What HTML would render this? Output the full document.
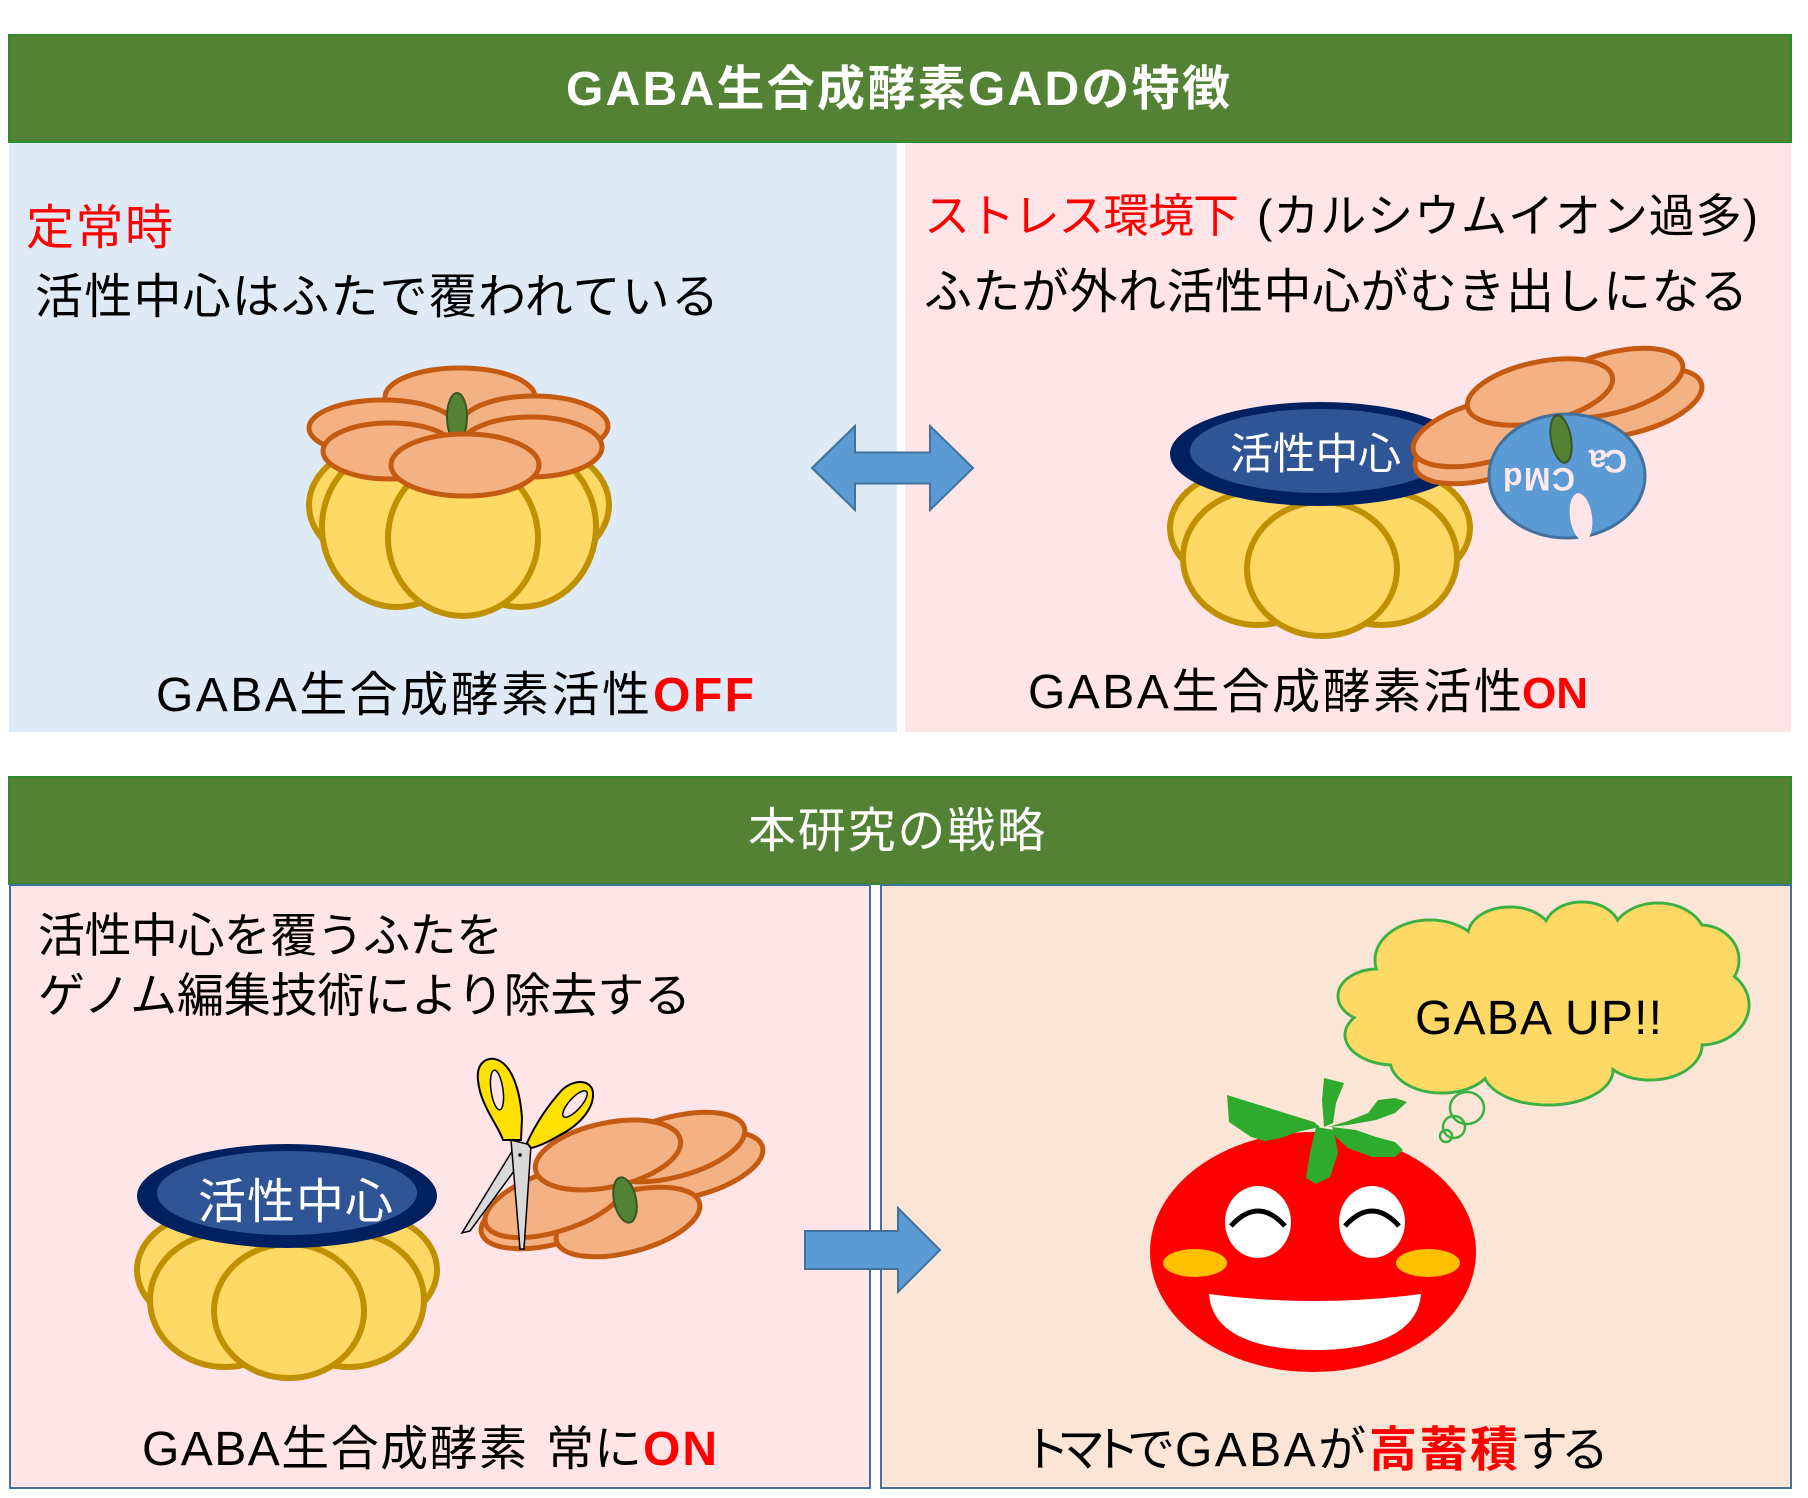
<!DOCTYPE html>
<html>
<head>
<meta charset="utf-8">
<style>
html,body{margin:0;padding:0;background:#ffffff;}
svg{display:block;}
text{font-family:"Liberation Sans","Noto Sans CJK JP",sans-serif;}
</style>
</head>
<body>
<svg width="1808" height="1498" viewBox="0 0 1808 1498" xmlns="http://www.w3.org/2000/svg">
  <rect x="0" y="0" width="1808" height="1498" fill="#ffffff"/>

  <!-- ===== TOP SECTION ===== -->
  <rect x="9" y="35" width="1782" height="107" fill="#548235" stroke="#2E8B2E" stroke-width="2"/>
  <text x="566" y="105" font-size="48" font-weight="bold" fill="#ffffff" textLength="664" lengthAdjust="spacing">GABA生合成酵素GADの特徴</text>

  <rect x="9" y="143" width="888" height="589" fill="#DEEBF7"/>
  <rect x="905" y="143" width="886" height="589" fill="#FFE4E8"/>

  <!-- left panel text -->
  <text x="26" y="244" font-size="48" fill="#FF0000" textLength="147" lengthAdjust="spacing">定常時</text>
  <text x="35" y="313" font-size="48" fill="#000" textLength="684" lengthAdjust="spacing">活性中心はふたで覆われている</text>
  <text x="156" y="711" font-size="48" fill="#000" textLength="494" lengthAdjust="spacing">GABA生合成酵素活性</text>
  <text x="653" y="711" font-size="48" font-weight="bold" fill="#FF0000" textLength="101" lengthAdjust="spacing">OFF</text>

  <!-- right panel text -->
  <text x="924" y="232" font-size="46" fill="#FF0000" textLength="315" lengthAdjust="spacing">ストレス環境下</text>
  <text x="1257" y="232" font-size="46" fill="#000" textLength="501" lengthAdjust="spacing">(カルシウムイオン過多)</text>
  <text x="924" y="308" font-size="48" fill="#000" textLength="824" lengthAdjust="spacing">ふたが外れ活性中心がむき出しになる</text>
  <text x="1028" y="708" font-size="48" fill="#000" textLength="494" lengthAdjust="spacing">GABA生合成酵素活性</text>
  <text x="1522" y="708" font-size="44" font-weight="bold" fill="#FF0000">ON</text>

  <!-- double arrow -->
  <polygon points="812,468 855,426 855,452.5 930,452.5 930,426 973,468 930,510 930,483.5 855,483.5 855,510" fill="#5B9BD5" stroke="#41719C" stroke-width="2"/>

  <!-- Pumpkin 1 (lid closed) -->
  <g stroke="#BF9000" stroke-width="6" fill="#FFD966">
    <ellipse cx="387" cy="505" rx="78" ry="60"/>
    <ellipse cx="531" cy="505" rx="78" ry="60"/>
    <ellipse cx="397" cy="527" rx="75" ry="80"/>
    <ellipse cx="521" cy="527" rx="75" ry="80"/>
    <ellipse cx="463" cy="538" rx="75" ry="78"/>
  </g>
  <g stroke="#C55A11" stroke-width="5" fill="#F4B183">
    <ellipse cx="460" cy="397" rx="75" ry="29"/>
    <ellipse cx="383" cy="428" rx="74" ry="28"/>
    <ellipse cx="534" cy="426" rx="74" ry="30"/>
    <ellipse cx="390" cy="451" rx="67" ry="28"/>
    <ellipse cx="531" cy="447" rx="71" ry="30"/>
  </g>
  <ellipse cx="457" cy="417" rx="10" ry="24" fill="#548235" stroke="#385723" stroke-width="2"/>
  <ellipse cx="465" cy="465" rx="74" ry="31" fill="#F4B183" stroke="#C55A11" stroke-width="5"/>

  <!-- Pumpkin 2 (lid off) -->
  <g transform="translate(1033,-742)">
    <g stroke="#BF9000" stroke-width="6" fill="#FFD966">
      <ellipse cx="215" cy="1270" rx="78" ry="58"/>
      <ellipse cx="359" cy="1270" rx="78" ry="58"/>
      <ellipse cx="225" cy="1300" rx="75" ry="67"/>
      <ellipse cx="349" cy="1300" rx="75" ry="67"/>
      <ellipse cx="289" cy="1311" rx="75" ry="67"/>
    </g>
    <ellipse cx="287" cy="1196" rx="150" ry="52" fill="#002060"/>
    <ellipse cx="287" cy="1193" rx="130" ry="42" fill="#2F5597"/>
  </g>
  <text x="1230" y="469" font-size="43" fill="#ffffff" textLength="171" lengthAdjust="spacing">活性中心</text>
  <g fill="#F4B183" stroke="#C55A11" stroke-width="5">
    <ellipse cx="1630" cy="403" rx="74" ry="30" transform="rotate(-15 1630 403)"/>
    <ellipse cx="1611" cy="383" rx="74" ry="30" transform="rotate(-15 1611 383)"/>
    <ellipse cx="1487" cy="449" rx="74" ry="30" transform="rotate(-15 1487 449)"/>
    <ellipse cx="1485" cy="432" rx="74" ry="30" transform="rotate(-15 1485 432)"/>
    <ellipse cx="1540" cy="392" rx="74" ry="30" transform="rotate(-12 1540 392)"/>
  </g>
  <ellipse cx="1567" cy="476" rx="78" ry="62" fill="#5B9BD5" stroke="#41719C" stroke-width="3"/>
  <g transform="rotate(180 1567 476)" fill="#FDE9EC" font-weight="bold" font-size="32">
    <text x="1559" y="484" textLength="72" lengthAdjust="spacing">CMd</text>
    <text x="1507" y="502" textLength="38" lengthAdjust="spacing">Ca</text>
  </g>
  <ellipse cx="1581" cy="517" rx="11" ry="24" fill="#FFE4E8" transform="rotate(-8 1581 517)"/>
  <ellipse cx="1561" cy="439" rx="10" ry="24" fill="#548235" stroke="#385723" stroke-width="2" transform="rotate(-10 1561 439)"/>

  <!-- ===== BOTTOM SECTION ===== -->
  <rect x="9" y="777" width="1782" height="107" fill="#548235" stroke="#2E8B2E" stroke-width="2"/>
  <text x="748" y="847" font-size="48" fill="#ffffff" textLength="297" lengthAdjust="spacing">本研究の戦略</text>

  <rect x="10" y="885" width="860" height="603" fill="#FFE4E8" stroke="#41719C" stroke-width="2"/>
  <rect x="881" y="885" width="910" height="603" fill="#FBE5D6" stroke="#41719C" stroke-width="2"/>

  <text x="38" y="952" font-size="47" fill="#000" textLength="465" lengthAdjust="spacing">活性中心を覆うふたを</text>
  <text x="38" y="1012" font-size="47" fill="#000" textLength="653" lengthAdjust="spacing">ゲノム編集技術により除去する</text>

  <text x="142" y="1465" font-size="48" fill="#000" textLength="385" lengthAdjust="spacing">GABA生合成酵素</text>
  <text x="546" y="1465" font-size="48" fill="#000" textLength="96" lengthAdjust="spacing">常に</text>
  <text x="643" y="1465" font-size="48" font-weight="bold" fill="#FF0000" textLength="74" lengthAdjust="spacing">ON</text>

  <!-- Pumpkin 3 -->
  <g stroke="#BF9000" stroke-width="6" fill="#FFD966">
    <ellipse cx="215" cy="1270" rx="78" ry="58"/>
    <ellipse cx="359" cy="1270" rx="78" ry="58"/>
    <ellipse cx="225" cy="1300" rx="75" ry="67"/>
    <ellipse cx="349" cy="1300" rx="75" ry="67"/>
    <ellipse cx="289" cy="1311" rx="75" ry="67"/>
  </g>
  <ellipse cx="287" cy="1196" rx="150" ry="52" fill="#002060"/>
  <ellipse cx="287" cy="1193" rx="130" ry="42" fill="#2F5597"/>
  <text x="198" y="1218" font-size="48" fill="#ffffff" textLength="195" lengthAdjust="spacing">活性中心</text>

  <!-- removed lid -->
  <g fill="#F4B183" stroke="#C55A11" stroke-width="5">
    <ellipse cx="691" cy="1166" rx="74" ry="30" transform="rotate(-15 691 1166)"/>
    <ellipse cx="673" cy="1147" rx="74" ry="30" transform="rotate(-15 673 1147)"/>
    <ellipse cx="553" cy="1214" rx="74" ry="30" transform="rotate(-15 553 1214)"/>
    <ellipse cx="628" cy="1222" rx="74" ry="30" transform="rotate(-15 628 1222)"/>
    <ellipse cx="556" cy="1201" rx="74" ry="30" transform="rotate(-18 556 1201)"/>
    <ellipse cx="608" cy="1155" rx="74" ry="32" transform="rotate(-12 608 1155)"/>
  </g>
  <ellipse cx="625" cy="1200" rx="11" ry="23" fill="#548235" stroke="#385723" stroke-width="2" transform="rotate(-12 625 1200)"/>

  <!-- scissors -->
  <polygon points="514,1148 528,1152 470,1231 462,1233" fill="#D9D9D9" stroke="#000" stroke-width="1.5"/>
  <polygon points="511,1140 531,1145 524,1249 520,1249" fill="#D9D9D9" stroke="#000" stroke-width="1.5"/>
  <circle cx="520" cy="1155" r="1.8" fill="#000"/>
  <path d="M503,1140 C498,1125 480,1105 478,1080 C476,1062 488,1056 498,1060 C512,1066 520,1090 522,1118 L521,1140 Z" fill="#FFE100" stroke="#000" stroke-width="2"/>
  <ellipse cx="497" cy="1090" rx="6" ry="20" fill="#FFE4E8" stroke="#000" stroke-width="1.5" transform="rotate(-8 497 1090)"/>
  <path d="M527,1143 C535,1125 548,1105 562,1090 C575,1078 592,1080 593,1093 C594,1108 580,1125 560,1135 C550,1141 540,1146 531,1148 Z" fill="#FFE100" stroke="#000" stroke-width="2"/>
  <ellipse cx="575" cy="1104" rx="6" ry="17" fill="#FFE4E8" stroke="#000" stroke-width="1.5" transform="rotate(42 575 1104)"/>

  <!-- right arrow -->
  <polygon points="805,1231 898,1231 898,1208 940,1250 898,1292 898,1269 805,1269" fill="#5B9BD5" stroke="#41719C" stroke-width="2"/>

  <!-- cloud -->
  <g fill="#FFD966" stroke="#3CB043" stroke-width="3">
    <ellipse cx="1378" cy="996" rx="40" ry="27"/>
    <ellipse cx="1430" cy="960" rx="55" ry="40"/>
    <ellipse cx="1510" cy="935" rx="42" ry="28"/>
    <ellipse cx="1582" cy="930" rx="38" ry="28"/>
    <ellipse cx="1658" cy="940" rx="48" ry="37"/>
    <ellipse cx="1700" cy="960" rx="39" ry="35"/>
    <ellipse cx="1700" cy="1005" rx="49" ry="40"/>
    <ellipse cx="1650" cy="1045" rx="52" ry="35"/>
    <ellipse cx="1548" cy="1070" rx="65" ry="35"/>
    <ellipse cx="1442" cy="1060" rx="52" ry="33"/>
    <ellipse cx="1395" cy="1035" rx="50" ry="30"/>
  </g>
  <g fill="#FFD966">
    <ellipse cx="1378" cy="996" rx="38.5" ry="25.5"/>
    <ellipse cx="1430" cy="960" rx="53.5" ry="38.5"/>
    <ellipse cx="1510" cy="935" rx="40.5" ry="26.5"/>
    <ellipse cx="1582" cy="930" rx="36.5" ry="26.5"/>
    <ellipse cx="1658" cy="940" rx="46.5" ry="35.5"/>
    <ellipse cx="1700" cy="960" rx="37.5" ry="33.5"/>
    <ellipse cx="1700" cy="1005" rx="47.5" ry="38.5"/>
    <ellipse cx="1650" cy="1045" rx="50.5" ry="33.5"/>
    <ellipse cx="1548" cy="1070" rx="63.5" ry="33.5"/>
    <ellipse cx="1442" cy="1060" rx="50.5" ry="31.5"/>
    <ellipse cx="1395" cy="1035" rx="48.5" ry="28.5"/>
    <ellipse cx="1545" cy="1000" rx="150" ry="70"/>
  </g>
  <g fill="none" stroke="#3CB043" stroke-width="2.5">
    <ellipse cx="1467" cy="1108" rx="17" ry="16"/>
    <ellipse cx="1454" cy="1127" rx="11" ry="11"/>
    <ellipse cx="1446" cy="1136" rx="6" ry="6"/>
  </g>
  <text x="1415" y="1034" font-size="48" fill="#000" textLength="247" lengthAdjust="spacing">GABA UP!!</text>

  <!-- tomato -->
  <ellipse cx="1313" cy="1252" rx="163" ry="120" fill="#FF0000"/>
  <g fill="#2EAA2E">
    <polygon points="1227,1095 1314,1122 1320,1127 1297,1132 1281,1138 1265,1141 1251,1137 1229,1122"/>
    <polygon points="1324,1078 1344,1083 1336,1103 1333,1123 1324,1127 1322,1100"/>
    <polygon points="1328,1127 1348,1121 1368,1113 1378,1100 1395,1098 1407,1102 1395,1113 1376,1120 1348,1125"/>
    <polygon points="1332,1127 1356,1130 1376,1137 1395,1142 1403,1150 1395,1157 1372,1157 1348,1148 1336,1137"/>
    <polygon points="1316,1127 1334,1130 1338,1153 1330,1177 1316,1184 1306,1178 1310,1153"/>
  </g>
  <ellipse cx="1258" cy="1222" rx="33" ry="36" fill="#ffffff"/>
  <ellipse cx="1372" cy="1222" rx="33" ry="36" fill="#ffffff"/>
  <path d="M1231,1226 Q1258,1196 1285,1226" fill="none" stroke="#000" stroke-width="5"/>
  <path d="M1345,1226 Q1372,1196 1399,1226" fill="none" stroke="#000" stroke-width="5"/>
  <ellipse cx="1195" cy="1263" rx="32" ry="14" fill="#FFC000"/>
  <ellipse cx="1428" cy="1263" rx="32" ry="14" fill="#FFC000"/>
  <path d="M1209,1294 Q1315,1308 1421,1294 C1418,1335 1370,1350 1315,1350 C1258,1350 1212,1335 1209,1294 Z" fill="#ffffff"/>

  <text x="1022" y="1466" font-size="48" fill="#000" textLength="153" lengthAdjust="spacing">トマトで</text>
  <text x="1175" y="1466" font-size="48" fill="#000" textLength="191" lengthAdjust="spacing">GABAが</text>
  <text x="1369" y="1466" font-size="48" font-weight="bold" fill="#FF0000" textLength="149" lengthAdjust="spacing">高蓄積</text>
  <text x="1520" y="1466" font-size="48" fill="#000" textLength="89" lengthAdjust="spacing">する</text>
</svg>
</body>
</html>
